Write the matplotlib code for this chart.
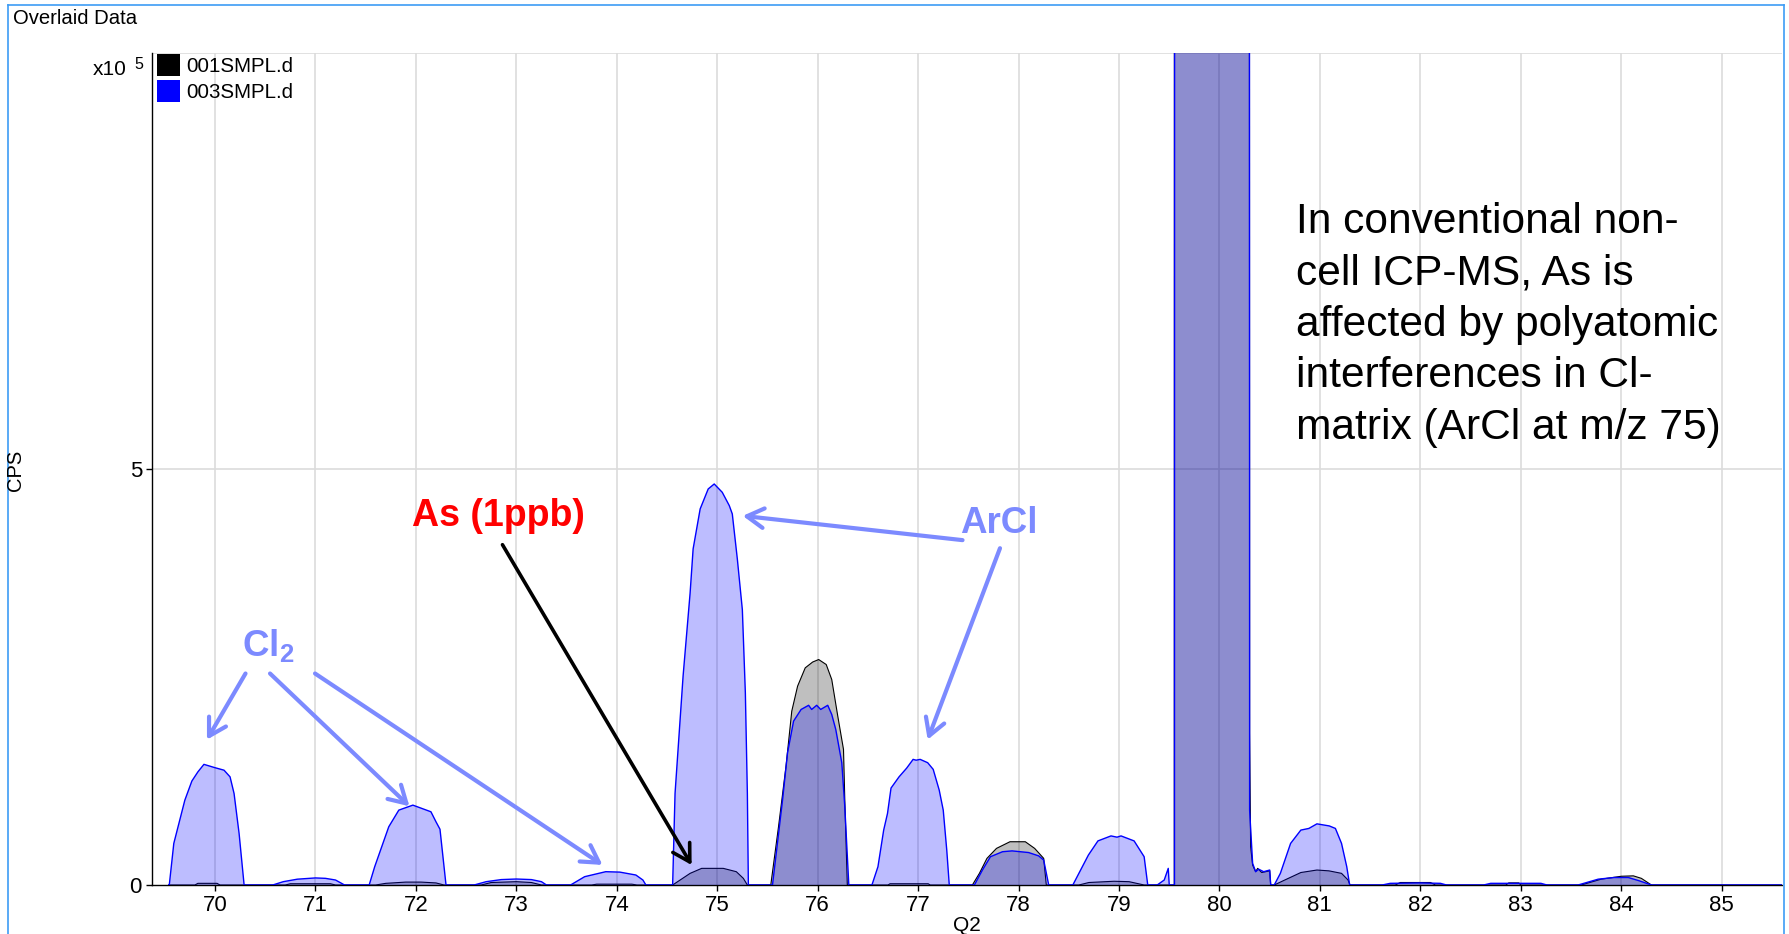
import matplotlib
matplotlib.use("Agg")
import matplotlib.pyplot as plt
from matplotlib.lines import Line2D
from matplotlib.patches import Rectangle

plt.rcParams["font.family"] = ["Liberation Sans", "DejaVu Sans"]
plt.rcParams["mathtext.fontset"] = "custom"
plt.rcParams["mathtext.rm"] = "Liberation Sans"
plt.rcParams["mathtext.bf"] = "Liberation Sans:bold"

# ---------------------------------------------------------------------------
# Mass scan data: m/z (Q2) and intensity in units of 1e5 CPS
# ---------------------------------------------------------------------------
sample_names = ["001SMPL.d", "003SMPL.d"]

# 001SMPL.d
mz_001 = [69.54,
          69.80, 69.83, 70.02, 70.05,
          70.70, 70.75, 71.15, 71.20,
          71.60, 71.70, 71.90, 72.05, 72.20, 72.28,
          72.65, 72.75, 73.00, 73.15, 73.25,
          73.75, 73.80, 74.15, 74.20,
          74.556, 74.73, 74.845, 75.06, 75.19, 75.26, 75.30,
          75.533, 75.61, 75.685, 75.742, 75.80, 75.876, 75.95, 76.01, 76.085, 76.14, 76.20, 76.257, 76.27, 76.295,
          76.70, 76.72, 77.10, 77.12,
          77.54, 77.61, 77.685, 77.78, 77.914, 78.067, 78.16, 78.25, 78.276,
          78.60, 78.70, 78.95, 79.10, 79.25,
          79.55, 79.553, 80.295, 80.30, 80.31, 80.33, 80.36, 80.38, 80.42, 80.50, 80.51,
          80.545, 80.65, 80.81, 80.97, 81.09, 81.215, 81.28, 81.30,
          81.75, 81.80, 82.10, 82.15,
          82.85, 82.88, 82.98, 83.00,
          83.60, 83.80, 84.00, 84.12, 84.20, 84.30,
          85.62]
cps_001 = [0,
           0, 0.02, 0.02, 0,
           0, 0.015, 0.015, 0,
           0, 0.02, 0.035, 0.035, 0.025, 0,
           0, 0.03, 0.04, 0.03, 0,
           0, 0.01, 0.01, 0,
           0, 0.14, 0.20, 0.20, 0.16, 0.08, 0,
           0, 0.70, 1.43, 2.09, 2.39, 2.61, 2.68, 2.71, 2.65, 2.47, 2.03, 1.63, 1.02, 0,
           0, 0.015, 0.015, 0,
           0, 0.14, 0.32, 0.44, 0.52, 0.52, 0.44, 0.32, 0,
           0, 0.03, 0.045, 0.04, 0,
           0, 30.0, 30.0, 1.83, 0.46, 0.24, 0.16, 0.20, 0.15, 0.17, 0,
           0, 0.06, 0.15, 0.18, 0.17, 0.14, 0.06, 0,
           0, 0.03, 0.03, 0,
           0, 0.025, 0.025, 0,
           0, 0.07, 0.105, 0.11, 0.08, 0,
           0]

# 003SMPL.d
mz_003 = [69.54,
          69.545, 69.59, 69.70, 69.77, 69.83, 69.89, 70.00, 70.09, 70.15, 70.19, 70.24, 70.29,
          70.575, 70.68, 70.82, 71.00, 71.10, 71.20, 71.29,
          71.535, 71.59, 71.66, 71.73, 71.83, 71.97, 72.06, 72.15, 72.20, 72.24, 72.28, 72.30,
          72.58, 72.70, 72.85, 73.00, 73.15, 73.25, 73.30,
          73.54, 73.68, 73.89, 74.03, 74.19, 74.26, 74.29,
          74.556, 74.58, 74.66, 74.73, 74.76, 74.83, 74.91, 74.97, 75.05, 75.12, 75.15, 75.20, 75.25, 75.28, 75.30, 75.31,
          75.55, 75.65, 75.70, 75.76, 75.835, 75.91, 75.94, 75.99, 76.03, 76.10, 76.14, 76.18, 76.24, 76.27, 76.31,
          76.54, 76.60, 76.657, 76.695, 76.73, 76.81, 76.886, 76.95, 76.98, 77.02, 77.095, 77.15, 77.21, 77.25, 77.285, 77.31,
          77.56, 77.64, 77.72, 77.84, 77.935, 78.10, 78.20, 78.25, 78.30,
          78.54, 78.60, 78.695, 78.79, 78.92, 78.98, 79.02, 79.15, 79.25, 79.286,
          79.38, 79.45, 79.49, 79.50,
          79.552, 79.555, 80.295, 80.30, 80.33, 80.36, 80.39, 80.44, 80.50, 80.51,
          80.545, 80.606, 80.708, 80.81, 80.89, 80.97, 81.093, 81.154, 81.215, 81.267, 81.296,
          81.62, 81.70, 82.00, 82.20, 82.26,
          82.63, 82.70, 83.00, 83.20, 83.26,
          83.57, 83.77, 83.93, 84.07, 84.18, 84.30,
          85.62]
cps_003 = [0,
           0, 0.50, 1.02, 1.25, 1.36, 1.45, 1.41, 1.38, 1.30, 1.10, 0.62, 0,
           0, 0.04, 0.07, 0.085, 0.08, 0.06, 0,
           0, 0.22, 0.46, 0.70, 0.90, 0.96, 0.92, 0.88, 0.76, 0.67, 0.22, 0,
           0, 0.04, 0.065, 0.072, 0.065, 0.04, 0,
           0, 0.10, 0.16, 0.155, 0.12, 0.06, 0,
           0, 1.10, 2.51, 3.51, 4.04, 4.52, 4.76, 4.82, 4.72, 4.56, 4.46, 3.92, 3.31, 2.31, 1.10, 0,
           0, 1.02, 1.59, 1.97, 2.11, 2.16, 2.11, 2.16, 2.11, 2.16, 2.05, 1.87, 1.47, 0.94, 0,
           0, 0.22, 0.66, 0.86, 1.165, 1.30, 1.405, 1.51, 1.50, 1.51, 1.47, 1.39, 1.14, 0.90, 0.42, 0,
           0, 0.18, 0.34, 0.40, 0.41, 0.39, 0.35, 0.30, 0,
           0, 0.14, 0.36, 0.53, 0.59, 0.575, 0.59, 0.53, 0.34, 0,
           0, 0.06, 0.20, 0,
           0, 30.0, 30.0, 0.90, 0.26, 0.16, 0.19, 0.16, 0.18, 0,
           0, 0.14, 0.50, 0.66, 0.68, 0.735, 0.71, 0.68, 0.50, 0.22, 0,
           0, 0.02, 0.025, 0.02, 0,
           0, 0.02, 0.02, 0.02, 0,
           0, 0.07, 0.09, 0.09, 0.05, 0,
           0]

x_ticks = list(range(70, 86))
y_ticks = [0, 5]

# ---------------------------------------------------------------------------
# Figure layout (pixel geometry of a 1789 x 934 canvas)
# ---------------------------------------------------------------------------
W, H, DPI = 1789, 934, 100
fig = plt.figure(figsize=(W / DPI, H / DPI), dpi=DPI)


def fx(px):
    return px / W


def fy(py):
    return 1 - py / H


ax_l, ax_r, ax_t, ax_b = 151.7, 1782.0, 53.0, 885.0
ax = fig.add_axes([fx(ax_l), fy(ax_b), (ax_r - ax_l) / W, (ax_b - ax_t) / H])
ax.set_xlim(69.37, 85.60)
ax.set_ylim(0, 10)

grid_color = "#dcdcdc"
ax.set_xticks(x_ticks)
ax.set_yticks(y_ticks)
ax.grid(axis="x", color=grid_color, lw=1.2, zorder=0)
for yv in (5, 10):
    ax.axhline(yv, color=grid_color, lw=1.2, zorder=0)
ax.set_axisbelow(True)

for side in ("top", "right"):
    ax.spines[side].set_visible(False)
for side in ("left", "bottom"):
    ax.spines[side].set_color("black")
    ax.spines[side].set_linewidth(1.0)
ax.tick_params(axis="both", length=4, width=1.0, labelsize=16, color="black")
ax.tick_params(axis="x", pad=3)
ax.tick_params(axis="y", pad=3)

# Spectra: translucent fills with thin outlines
ax.fill_between(mz_001, cps_001, 0, color="black", alpha=0.25, lw=0, zorder=2)
ax.plot(mz_001, cps_001, color="black", lw=0.8, zorder=3)
ax.fill_between(mz_003, cps_003, 0, color="#0000ff", alpha=0.26, lw=0, zorder=4)
ax.plot(mz_003, cps_003, color="#0000ff", lw=1.0, zorder=5)

# ---------------------------------------------------------------------------
# Annotations
# ---------------------------------------------------------------------------
arcl_color = "#7c8aff"
head = "->,head_length=0.55,head_width=0.32"

ax.text(72.82, 4.31, "As (1ppb)", color="red", fontsize=27, fontweight="bold",
        ha="center", va="baseline", zorder=6)
ax.annotate("", xy=(74.745, 0.24), xytext=(72.862, 4.09),
            arrowprops=dict(arrowstyle=head, color="black", lw=2.6,
                            shrinkA=0, shrinkB=0, mutation_scale=22), zorder=6)

ax.text(77.80, 4.23, "ArCl", color=arcl_color, fontsize=26.5, fontweight="bold",
        ha="center", va="baseline", zorder=6)
for start, tip in [((77.442, 4.145), (75.254, 4.437)),
                   ((77.815, 4.048), (77.095, 1.747))]:
    ax.annotate("", xy=tip, xytext=start,
                arrowprops=dict(arrowstyle=head, color=arcl_color, lw=3.0,
                                shrinkA=0, shrinkB=0, mutation_scale=22), zorder=6)

ax.text(70.265, 2.75, r"$\mathbf{Cl_2}$", color=arcl_color, fontsize=26.5,
        ha="left", va="baseline", zorder=6)
for start, tip in [((70.304, 2.542), (69.920, 1.747)),
                   ((70.548, 2.542), (71.936, 0.946)),
                   ((70.996, 2.542), (73.858, 0.241))]:
    ax.annotate("", xy=tip, xytext=start,
                arrowprops=dict(arrowstyle=head, color=arcl_color, lw=3.0,
                                shrinkA=0, shrinkB=0, mutation_scale=22), zorder=6)

fig.text(fx(1296), fy(202),
         "In conventional non-\ncell ICP-MS, As is\naffected by polyatomic\n"
         "interferences in Cl-\nmatrix (ArCl at m/z 75)",
         fontsize=30.6, ha="left", va="top", linespacing=1.37, color="black")

# Axis titles and scale factor
fig.text(fx(16), fy(470), "CPS", rotation=90, fontsize=14.5, ha="center", va="center")
fig.text(fx(967), fy(916), "Q2", fontsize=15, ha="center", va="top")
fig.text(fx(127), fy(75), "x10", fontsize=15, ha="right", va="baseline")
fig.text(fx(134), fy(69), "5", fontsize=11.5, ha="left", va="baseline")

# Panel title
fig.text(fx(13), fy(19), "Overlaid Data", fontsize=14.6, ha="left", va="center")

# Legend swatches
for i, (name, col) in enumerate(zip(sample_names, ["black", "#0000ff"])):
    top = 54 + i * 26
    fig.add_artist(Rectangle((fx(157), fy(top + 22)), 23 / W, 22 / H,
                             transform=fig.transFigure, facecolor=col,
                             edgecolor="none"))
    fig.text(fx(186), fy(top + 13), name, fontsize=14.8, ha="left", va="center")

# Panel frame
frame_color = "#3d9cf5"
for xs, ys in [([8.3, 8.3], [934, 4.7]),
               ([8.3, 1783.6], [4.7, 4.7]),
               ([1783.6, 1783.6], [4.7, 934])]:
    fig.add_artist(Line2D([fx(v) for v in xs], [fy(v) for v in ys],
                          transform=fig.transFigure, color=frame_color, lw=1.2))

fig.savefig("out.png", dpi=DPI)
